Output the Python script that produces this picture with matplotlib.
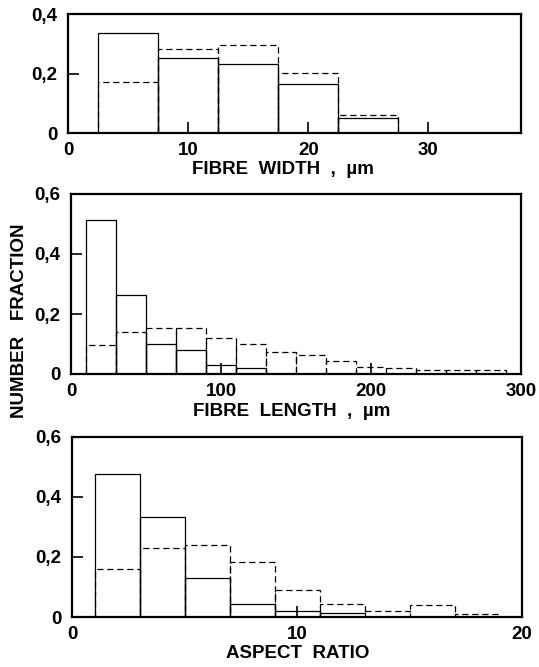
import matplotlib
matplotlib.use('Agg')
import matplotlib.pyplot as plt

plt.rcParams['font.family'] = ['Liberation Sans', 'DejaVu Sans']

# ---------------- data ----------------
width_bin_left = [2.5, 7.5, 12.5, 17.5, 22.5]
width_bin_size = 5
width_solid = [0.335, 0.252, 0.233, 0.165, 0.052]
width_dashed = [0.170, 0.284, 0.296, 0.202, 0.060]

length_bin_left = [10, 30, 50, 70, 90, 110, 130, 150, 170, 190, 210, 230, 250, 270]
length_bin_size = 20
length_solid = [0.512, 0.262, 0.101, 0.081, 0.030, 0.019, 0, 0, 0, 0, 0, 0, 0, 0]
length_dashed = [0.098, 0.140, 0.152, 0.152, 0.121, 0.100, 0.072, 0.063, 0.042,
                 0.022, 0.020, 0.012, 0.012, 0.012]

aspect_bin_left = [1, 3, 5, 7, 9, 11, 13, 15, 17]
aspect_bin_size = 2
aspect_solid = [0.476, 0.332, 0.131, 0.042, 0.020, 0.012, 0, 0, 0]
aspect_dashed = [0.160, 0.231, 0.241, 0.182, 0.091, 0.042, 0.021, 0.041, 0.011]

width_xticks = [0, 10, 20, 30]
length_xticks = [0, 100, 200, 300]
aspect_xticks = [0, 10, 20]
yticks_top = [0, 0.2, 0.4]
yticks_top_labels = ['0', '0,2', '0,4']
yticks = [0, 0.2, 0.4, 0.6]
yticks_labels = ['0', '0,2', '0,4', '0,6']

xlabels = ['FIBRE  WIDTH  ,  \u00b5m', 'FIBRE  LENGTH  ,  \u00b5m', 'ASPECT  RATIO']
ylabel = 'NUMBER   FRACTION'

# ---------------- layout ----------------
W, H = 539, 667
fig = plt.figure(figsize=(W / 100, H / 100), dpi=100)


def axpos(l, t, r, b):
    return [l / W, 1 - b / H, (r - l) / W, (b - t) / H]


panels = [
    dict(box=(68, 14, 521, 133), left=width_bin_left, size=width_bin_size,
         solid=width_solid, dashed=width_dashed, xlim=(0, 37.7), ylim=(0, 0.4),
         xticks=width_xticks, yticks=yticks_top, yl=yticks_top_labels,
         xlabel=xlabels[0], lx=283),
    dict(box=(71, 194, 521, 374), left=length_bin_left, size=length_bin_size,
         solid=length_solid, dashed=length_dashed, xlim=(0, 300), ylim=(0, 0.6),
         xticks=length_xticks, yticks=yticks, yl=yticks_labels,
         xlabel=xlabels[1], lx=292),
    dict(box=(72, 437, 522, 617), left=aspect_bin_left, size=aspect_bin_size,
         solid=aspect_solid, dashed=aspect_dashed, xlim=(0, 20), ylim=(0, 0.6),
         xticks=aspect_xticks, yticks=yticks, yl=yticks_labels,
         xlabel=xlabels[2], lx=298),
]

FS = 13.5
for p in panels:
    l, t, r, b = p['box']
    ax = fig.add_axes(axpos(l, t, r, b))
    ax.bar(p['left'], p['dashed'], width=p['size'], align='edge', fill=False,
           edgecolor='black', linewidth=0.9, linestyle=(0, (5, 3)), zorder=2)
    ax.bar(p['left'], p['solid'], width=p['size'], align='edge', fill=False,
           edgecolor='black', linewidth=0.9, zorder=3)
    ax.set_xlim(*p['xlim'])
    ax.set_ylim(*p['ylim'])
    ax.set_xticks(p['xticks'])
    ax.set_xticklabels([str(v) for v in p['xticks']], fontweight='bold')
    ax.set_yticks(p['yticks'])
    ax.set_yticklabels(p['yl'], fontweight='bold')
    for s in ax.spines.values():
        s.set_linewidth(1.6)
        s.set_zorder(4)
    ax.tick_params(direction='in', length=8, width=1.2, labelsize=FS,
                   top=False, right=False)
    ax.tick_params(axis='x', pad=6.5)
    ax.tick_params(axis='y', pad=7.5)
    ax.set_xlabel(p['xlabel'], fontsize=FS, fontweight='bold')
    ax.xaxis.set_label_coords((p['lx'] - l) / (r - l), -28.5 / (b - t))

fig.text(19.5 / W, 1 - 321 / H, ylabel, rotation=90, ha='center', va='center',
         fontsize=FS, fontweight='bold')

fig.savefig('out.png', dpi=100)
